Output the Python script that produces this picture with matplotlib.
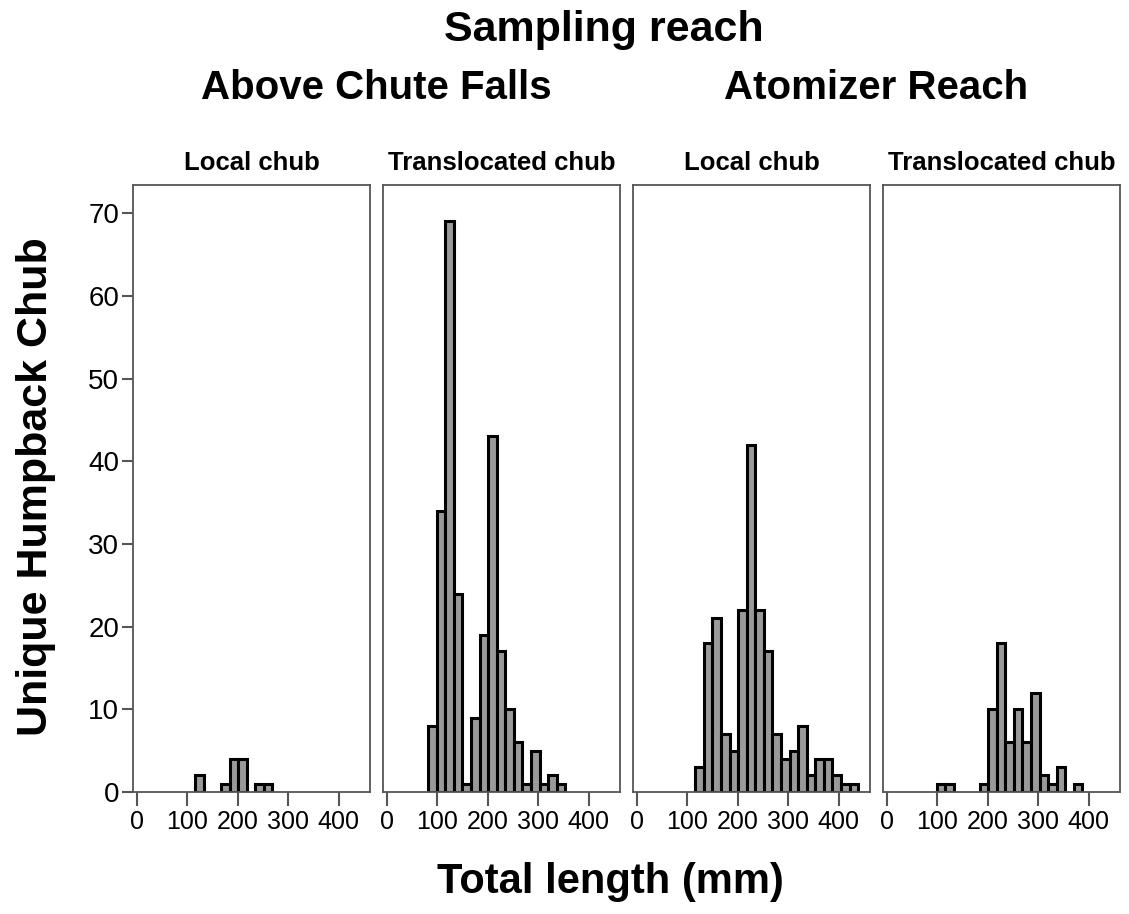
import numpy as np
import matplotlib
matplotlib.use('Agg')
import matplotlib.pyplot as plt

plt.rcParams['font.family'] = ['Liberation Sans', 'DejaVu Sans']

# shared histogram bins (total length, mm)
bin_start = 81.5
bin_width = 17.0

# counts per bin index, for each panel
reaches = ['Above Chute Falls', 'Atomizer Reach']
groups = ['Local chub', 'Translocated chub']

acf_local_bins = [2, 5, 6, 7, 9, 10]
acf_local_counts = [2, 1, 4, 4, 1, 1]

acf_trans_bins = list(range(0, 16))
acf_trans_counts = [8, 34, 69, 24, 1, 9, 19, 43, 17, 10, 6, 1, 5, 1, 2, 1]

atom_local_bins = list(range(2, 21))
atom_local_counts = [3, 18, 21, 7, 5, 22, 42, 22, 17, 7, 4, 5, 8, 2, 4, 4, 2, 1, 1]

atom_trans_bins = [1, 2, 6, 7, 8, 9, 10, 11, 12, 13, 14, 15, 17]
atom_trans_counts = [1, 1, 1, 10, 18, 6, 10, 6, 12, 2, 1, 3, 1]

panels = [
    (acf_local_bins, acf_local_counts),
    (acf_trans_bins, acf_trans_counts),
    (atom_local_bins, atom_local_counts),
    (atom_trans_bins, atom_trans_counts),
]

x_ticks = [0, 100, 200, 300, 400]
y_ticks = [0, 10, 20, 30, 40, 50, 60, 70]

W, H = 1129, 914
fig = plt.figure(figsize=(W / 100, H / 100), dpi=100)

frame_color = '#555555'
left0, step, width = 133, 250, 237
top, bottom = 185, 792

for i, (bins, counts) in enumerate(panels):
    ax = fig.add_axes([(left0 + i * step) / W, (H - bottom) / H, width / W, (bottom - top) / H])
    edges = bin_start + bin_width * np.array(bins)
    ax.bar(edges, counts, width=bin_width, align='edge', color='#9a9a9a',
           edgecolor='black', linewidth=2.2)
    ax.set_xlim(-8, 462)
    ax.set_ylim(0, 73.4)
    ax.set_xticks(x_ticks)
    ax.tick_params(axis='x', direction='out', length=10, width=1.5, color=frame_color,
                   labelsize=18, pad=3)
    if i == 0:
        ax.set_yticks(y_ticks)
        ax.tick_params(axis='y', direction='out', length=8, width=1.5, color=frame_color,
                       labelsize=20, pad=2)
    else:
        ax.set_yticks([])
    for sp in ax.spines.values():
        sp.set_color(frame_color)
        sp.set_linewidth(1.3)
    fig.text((left0 + i * step + width / 2) / W, 1 - 163 / H, groups[i % 2],
             ha='center', va='center', fontsize=18.5, fontweight='bold')

fig.text(604 / W, 1 - 30 / H, 'Sampling reach', ha='center', va='center',
         fontsize=31, fontweight='bold')
fig.text(376.5 / W, 1 - 88 / H, reaches[0], ha='center', va='center',
         fontsize=29, fontweight='bold')
fig.text(876 / W, 1 - 88 / H, reaches[1], ha='center', va='center',
         fontsize=29, fontweight='bold')

fig.text(36 / W, 1 - 487 / H, 'Unique Humpback Chub', rotation=90, ha='center',
         va='center', fontsize=31, fontweight='bold')
fig.text(610 / W, 1 - 882 / H, 'Total length (mm)', ha='center', va='center',
         fontsize=30, fontweight='bold')

fig.savefig('out.png', dpi=100)
